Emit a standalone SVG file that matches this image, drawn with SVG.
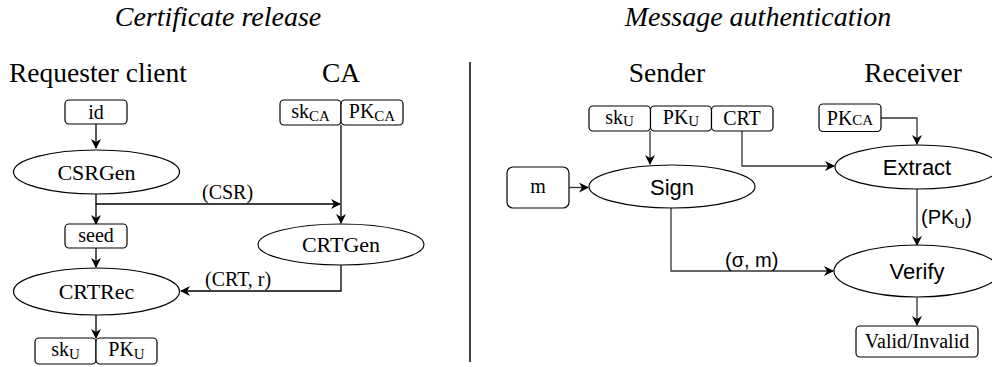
<svg xmlns="http://www.w3.org/2000/svg" width="992" height="367" viewBox="0 0 992 367">
<style>
.serif{font-family:"Liberation Serif","Times New Roman",serif;fill:#000}
.sans{font-family:"Liberation Sans",Arial,sans-serif;fill:#000}
.title{font-size:28px;font-style:italic}
.head{font-size:27.5px}
.lbl{font-size:20px}
.big{font-size:22px}
.sub{font-size:15px}
.box{fill:#fff;stroke:#000;stroke-width:1.2}
.ell{fill:#fff;stroke:#000;stroke-width:1.2}
.edge{fill:none;stroke:#000;stroke-width:1.3}
.edge2{fill:none;stroke:#333;stroke-width:1.3}
</style>
<defs>
<marker id="arr" viewBox="0 0 10 10" refX="9" refY="5" markerWidth="10" markerHeight="10" markerUnits="userSpaceOnUse" orient="auto">
<path d="M0,0 L10,5 L0,10 L3,5 Z" fill="#000"/>
</marker>
</defs>
<g id="titles">
<text class="serif title" x="218" y="26" text-anchor="middle">Certificate release</text>
<text class="serif title" x="758" y="26" text-anchor="middle">Message authentication</text>
<text class="serif head" x="9" y="82">Requester client</text>
<text class="serif head" x="341" y="82" text-anchor="middle">CA</text>
<text class="serif head" x="667" y="82" text-anchor="middle">Sender</text>
<text class="serif head" x="913" y="82" text-anchor="middle">Receiver</text>
</g>
<line id="divider" x1="470" y1="62" x2="470" y2="362" stroke="#000" stroke-width="1.5"/>
<g id="connectors">
<path class="edge" d="M96,124 V148" marker-end="url(#arr)"/>
<path class="edge" d="M96,194 V204 H340" marker-end="url(#arr)"/>
<path class="edge" d="M96,204 V224" marker-end="url(#arr)"/>
<path class="edge" d="M341,125 V223" marker-end="url(#arr)"/>
<path class="edge" d="M341,265 V291 H181" marker-end="url(#arr)"/>
<path class="edge" d="M96,248 V267" marker-end="url(#arr)"/>
<path class="edge" d="M96,315 V338" marker-end="url(#arr)"/>
<path class="edge2" d="M650,131 V164" marker-end="url(#arr)"/>
<path class="edge2" d="M569,187.5 H588" marker-end="url(#arr)"/>
<path class="edge2" d="M742,131 V166 H834" marker-end="url(#arr)"/>
<path class="edge2" d="M881,118 H917 V144" marker-end="url(#arr)"/>
<path class="edge2" d="M917,189 V245" marker-end="url(#arr)"/>
<path class="edge2" d="M671,208 V271 H833" marker-end="url(#arr)"/>
<path class="edge2" d="M917,297 V325" marker-end="url(#arr)"/>
<text class="serif lbl" x="202" y="199">(CSR)</text>
<text class="serif lbl" x="205" y="286">(CRT, r)</text>
<text class="sans lbl" x="725" y="267">(σ, m)</text>
<text class="sans lbl" x="921" y="224">(PK<tspan class="sub" dy="4">U</tspan><tspan dy="-4">)</tspan></text>
</g>
<g id="id">
<rect class="box" x="65" y="100" width="62" height="24" rx="4"/>
<text class="serif lbl" x="96" y="118.5" text-anchor="middle">id</text>
</g>
<g id="csrgen">
<ellipse class="ell" cx="96.5" cy="172" rx="83" ry="22"/>
<text class="serif big" x="96.5" y="179.5" text-anchor="middle">CSRGen</text>
</g>
<g id="seed">
<rect class="box" x="65" y="224" width="62" height="24" rx="4"/>
<text class="serif lbl" x="96" y="242" text-anchor="middle">seed</text>
</g>
<g id="crtrec">
<ellipse class="ell" cx="96.5" cy="291.5" rx="83" ry="23.5"/>
<text class="serif big" x="96.5" y="299" text-anchor="middle">CRTRec</text>
</g>
<g id="keysU">
<rect class="box" x="35" y="338" width="61" height="26" rx="4"/>
<rect class="box" x="96" y="338" width="61" height="26" rx="4"/>
<text class="serif lbl" x="65.5" y="356" text-anchor="middle">sk<tspan class="sub" dy="2.5">U</tspan></text>
<text class="serif lbl" x="126.5" y="356" text-anchor="middle">PK<tspan class="sub" dy="2.5">U</tspan></text>
</g>
<g id="keysCA">
<rect class="box" x="280" y="100" width="61" height="25" rx="4"/>
<rect class="box" x="341" y="100" width="62" height="25" rx="4"/>
<text class="serif lbl" x="310.5" y="118" text-anchor="middle">sk<tspan class="sub" dy="3">CA</tspan></text>
<text class="serif lbl" x="372" y="118" text-anchor="middle">PK<tspan class="sub" dy="3">CA</tspan></text>
</g>
<g id="crtgen">
<ellipse class="ell" cx="341" cy="244.5" rx="83" ry="20.5"/>
<text class="serif big" x="341" y="252" text-anchor="middle">CRTGen</text>
</g>
<g id="senderKeys">
<rect class="box" x="589" y="106" width="61.5" height="25" rx="4"/>
<rect class="box" x="650.5" y="106" width="61" height="25" rx="4"/>
<rect class="box" x="711.5" y="106" width="61.5" height="25" rx="4"/>
<text class="serif lbl" x="619.5" y="123.5" text-anchor="middle">sk<tspan class="sub" dy="2.5">U</tspan></text>
<text class="serif lbl" x="681" y="123.5" text-anchor="middle">PK<tspan class="sub" dy="2.5">U</tspan></text>
<text class="serif lbl" x="742" y="125" text-anchor="middle">CRT</text>
</g>
<g id="m">
<rect class="box" x="507" y="167" width="62" height="41" rx="6"/>
<text class="serif lbl" x="538" y="193" text-anchor="middle">m</text>
</g>
<g id="sign">
<ellipse class="ell" cx="672" cy="186.5" rx="83" ry="21.5"/>
<text class="sans big" x="672" y="194.5" text-anchor="middle">Sign</text>
</g>
<g id="pkca">
<rect class="box" x="819" y="104" width="62" height="27.5" rx="4"/>
<text class="serif lbl" x="850" y="125" text-anchor="middle">PK<tspan class="sub">CA</tspan></text>
</g>
<g id="extract">
<ellipse class="ell" cx="917" cy="167" rx="82" ry="22"/>
<text class="sans big" x="917" y="175" text-anchor="middle">Extract</text>
</g>
<g id="verify">
<ellipse class="ell" cx="917" cy="271" rx="83" ry="26"/>
<text class="sans big" x="917" y="279" text-anchor="middle">Verify</text>
</g>
<g id="valid">
<rect class="box" x="856" y="326" width="122" height="31" rx="4"/>
<text class="serif lbl" x="917" y="348" text-anchor="middle">Valid/Invalid</text>
</g>
</svg>
